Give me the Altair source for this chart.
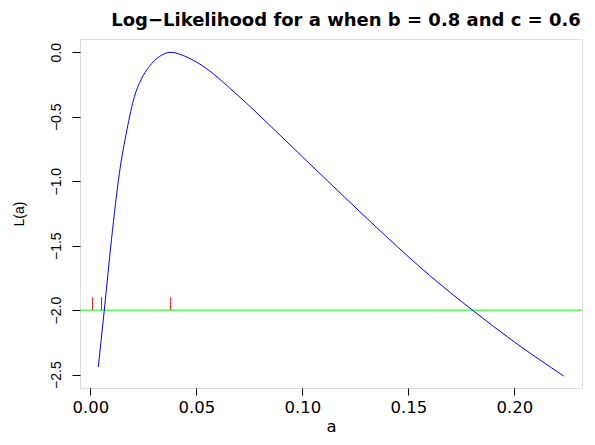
import altair as alt
import pandas as pd

# Curve
a_vals = [0.0038, 0.0050, 0.0066, 0.0100, 0.0137, 0.0173, 0.0208, 0.0239, 0.0278,
          0.0325, 0.0380, 0.0451, 0.0546, 0.0656, 0.0766, 0.0852, 0.1000, 0.1200,
          0.1400, 0.1600, 0.1800, 0.2000, 0.2233]
L_vals = [-2.44, -2.25, -2.00, -1.45, -0.94, -0.60, -0.344, -0.214, -0.111,
          -0.034, 0.0, -0.034, -0.124, -0.275, -0.440, -0.575, -0.810, -1.125,
          -1.435, -1.730, -1.997, -2.247, -2.511]

# rug ticks (observations) and cut-off line
rug_a = [0.0011, 0.0053, 0.0379]
cutoff = -2.0
rug_top = -1.9

x_ticks = [0.0, 0.05, 0.10, 0.15, 0.20]
y_ticks = [0.0, -0.5, -1.0, -1.5, -2.0, -2.5]

curve = pd.DataFrame({"a": a_vals, "L": L_vals})
rug = pd.DataFrame({"a": rug_a, "y": [cutoff] * len(rug_a), "y2": [rug_top] * len(rug_a)})
cut = pd.DataFrame({"y": [cutoff]})

xscale = alt.Scale(domain=[-0.00486, 0.2319], nice=False, zero=False)
yscale = alt.Scale(domain=[-2.604, 0.103], nice=False, zero=False)

xaxis = alt.Axis(values=x_ticks, format=".2f", title="a", domain=False, grid=False,
                 tickSize=7, tickColor="black", labelColor="black",
                 labelFont="DejaVu Sans", labelFontSize=16.5, labelPadding=4,
                 titleFont="DejaVu Sans", titleFontSize=16.5, titleFontWeight="normal",
                 titleColor="black", titlePadding=3)
yaxis = alt.Axis(values=y_ticks, format=".1f", title="L(a)", domain=False, grid=False,
                 tickSize=8, tickColor="black", labelColor="black",
                 labelAngle=-90, labelAlign="center", labelBaseline="alphabetic",
                 labelFont="Liberation Sans", labelFontSize=14, labelPadding=12,
                 titleFont="Liberation Sans", titleFontSize=14, titleFontWeight="normal",
                 titleColor="black", titlePadding=23)

base_x = alt.X("a:Q", scale=xscale, axis=xaxis)

line = alt.Chart(curve).mark_line(color="#0000FF", strokeWidth=1, interpolate="monotone").encode(
    x=base_x,
    y=alt.Y("L:Q", scale=yscale, axis=yaxis),
)

hline = alt.Chart(cut).mark_rule(color="#00FF00", strokeWidth=1).encode(
    y=alt.Y("y:Q", scale=yscale)
)

ticks = alt.Chart(rug).mark_rule(color="#FF0000", strokeWidth=1).encode(
    x=alt.X("a:Q", scale=xscale),
    y=alt.Y("y:Q", scale=yscale),
    y2="y2:Q",
)

chart = alt.layer(hline, line, ticks).properties(
    width=502,
    height=349,
    autosize=alt.AutoSizeParams(type="none"),
    padding={"left": 72, "top": 31, "right": 5, "bottom": 49},
    title=alt.TitleParams(
        text="Log−Likelihood for a when b = 0.8 and c = 0.6",
        font="DejaVu Sans", fontSize=18, fontWeight="bold", color="black",
        anchor="middle", frame="group", dx=15, offset=9,
    ),
).configure_view(stroke="black", strokeWidth=1).configure(background="white")

chart.save("out.html", embed_options={"renderer": "svg", "actions": False})
